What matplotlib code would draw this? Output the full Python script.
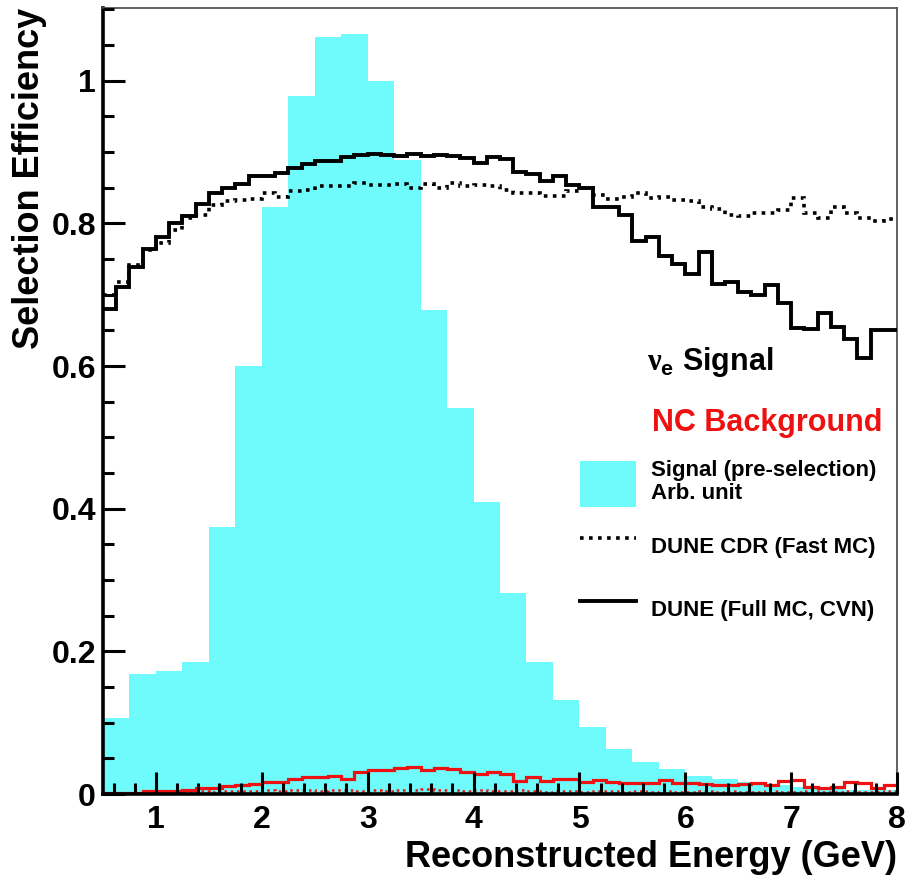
import numpy as np
import matplotlib
matplotlib.use("Agg")
import matplotlib.pyplot as plt
from matplotlib.patches import Patch
from matplotlib.lines import Line2D
from matplotlib.ticker import MultipleLocator, FuncFormatter

plt.rcParams['font.family'] = ['Liberation Sans', 'DejaVu Sans']
plt.rcParams['font.weight'] = 'bold'
plt.rcParams['mathtext.fontset'] = 'custom'
plt.rcParams['mathtext.rm'] = 'Liberation Serif'
plt.rcParams['mathtext.bf'] = 'Liberation Sans:bold'

# ---------------- data ----------------
E_MIN, E_MAX = 0.5, 8.0
N_COARSE, N_FINE = 30, 60

# signal pre-selection spectrum (arb. unit), 0.25 GeV bins
signal_pre = [0.107, 0.168, 0.173, 0.185, 0.375, 0.600, 0.823, 0.979, 1.062, 1.066,
              1.000, 0.889, 0.679, 0.541, 0.410, 0.282, 0.185, 0.132, 0.094, 0.063,
              0.045, 0.035, 0.025, 0.021, 0.017, 0.013, 0.010, 0.008, 0.006, 0.005]

# nu_e signal efficiency, DUNE full MC (CVN), 0.125 GeV bins
sig_cvn = [0.680, 0.711, 0.739, 0.764, 0.781, 0.800, 0.811, 0.827, 0.843, 0.849,
           0.855, 0.867, 0.867, 0.871, 0.878, 0.883, 0.888, 0.887, 0.893, 0.896,
           0.898, 0.896, 0.894, 0.897, 0.894, 0.896, 0.895, 0.892, 0.885, 0.893,
           0.890, 0.872, 0.869, 0.860, 0.867, 0.854, 0.849, 0.823, 0.823, 0.812,
           0.776, 0.781, 0.754, 0.743, 0.729, 0.760, 0.715, 0.718, 0.704, 0.700,
           0.713, 0.689, 0.653, 0.652, 0.674, 0.655, 0.638, 0.611, 0.651, 0.651]

# nu_e signal efficiency, DUNE CDR (fast MC)
sig_cdr = [0.700, 0.718, 0.742, 0.763, 0.773, 0.791, 0.808, 0.812, 0.826, 0.831,
           0.833, 0.834, 0.843, 0.837, 0.846, 0.847, 0.852, 0.852, 0.852, 0.856,
           0.854, 0.854, 0.855, 0.850, 0.855, 0.849, 0.857, 0.852, 0.854, 0.852,
           0.847, 0.843, 0.843, 0.838, 0.839, 0.845, 0.849, 0.840, 0.834, 0.837,
           0.843, 0.836, 0.837, 0.833, 0.831, 0.823, 0.820, 0.812, 0.811, 0.815,
           0.815, 0.819, 0.836, 0.815, 0.808, 0.823, 0.815, 0.808, 0.804, 0.806]

# NC background efficiency, DUNE full MC (CVN)
nc_cvn = [0.002, 0.002, 0.002, 0.004, 0.004, 0.004, 0.006, 0.008, 0.008, 0.011,
          0.013, 0.014, 0.017, 0.017, 0.021, 0.024, 0.024, 0.025, 0.021, 0.031,
          0.034, 0.034, 0.036, 0.038, 0.034, 0.036, 0.035, 0.031, 0.028, 0.031,
          0.028, 0.018, 0.024, 0.018, 0.021, 0.021, 0.017, 0.020, 0.017, 0.015,
          0.015, 0.015, 0.020, 0.015, 0.015, 0.014, 0.013, 0.012, 0.014, 0.015,
          0.012, 0.018, 0.020, 0.010, 0.009, 0.010, 0.017, 0.015, 0.008, 0.013]

# NC background efficiency, DUNE CDR (fast MC)
nc_cdr = [0.002, 0.002, 0.002, 0.003, 0.003, 0.003, 0.003, 0.004, 0.003, 0.004,
          0.004, 0.004, 0.005, 0.004, 0.005, 0.005, 0.004, 0.005, 0.005, 0.004,
          0.005, 0.004, 0.006, 0.005, 0.007, 0.006, 0.005, 0.004, 0.005, 0.004,
          0.004, 0.005, 0.004, 0.003, 0.004, 0.004, 0.003, 0.004, 0.004, 0.003,
          0.004, 0.003, 0.004, 0.003, 0.003, 0.004, 0.003, 0.004, 0.003, 0.003,
          0.004, 0.003, 0.003, 0.004, 0.003, 0.003, 0.004, 0.003, 0.003, 0.004]

Y_MAX = 1.102

# ---------------- style ----------------
CYAN = '#6ffbfb'
RED = '#ee1111'
DOT = (0, (1, 1.5))

W, H = 907, 876
fig = plt.figure(figsize=(W / 100, H / 100), dpi=100)
ax = fig.add_axes([103 / W, 82 / H, 794 / W, 786 / H])

edges_coarse = np.linspace(E_MIN, E_MAX, N_COARSE + 1)
edges_fine = np.linspace(E_MIN, E_MAX, N_FINE + 1)

ax.stairs(signal_pre, edges_coarse, fill=True, color=CYAN, linewidth=0, zorder=1)
ax.stairs(nc_cdr, edges_fine, baseline=None, color=RED, linewidth=1.8, linestyle=DOT, zorder=2)
ax.stairs(nc_cvn, edges_fine, baseline=None, color=RED, linewidth=2.3, zorder=2)
ax.stairs(sig_cdr, edges_fine, baseline=None, color='black', linewidth=2.6, linestyle=DOT, zorder=3)
ax.stairs(sig_cvn, edges_fine, baseline=None, color='black', linewidth=2.8, zorder=3)

ax.set_xlim(E_MIN, E_MAX)
ax.set_ylim(0, Y_MAX)

ax.xaxis.set_major_locator(MultipleLocator(1))
ax.xaxis.set_minor_locator(MultipleLocator(0.2))
ax.yaxis.set_major_locator(MultipleLocator(0.2))
ax.yaxis.set_minor_locator(MultipleLocator(0.05))
fmt = FuncFormatter(lambda v, p: '%g' % round(v, 3))
ax.xaxis.set_major_formatter(fmt)
ax.yaxis.set_major_formatter(fmt)

ax.tick_params(which='both', direction='in', top=False, right=False, width=2.2, color='black')
ax.tick_params(which='major', length=16, labelsize=23)
ax.tick_params(which='minor', length=8)
ax.tick_params(axis='x', which='major', pad=8)
ax.tick_params(axis='y', which='major', pad=5)
ax.set_axisbelow(False)

for s in ('left', 'bottom'):
    ax.spines[s].set_linewidth(2.6)
    ax.spines[s].set_color('black')
for s in ('top', 'right'):
    ax.spines[s].set_linewidth(1.3)
    ax.spines[s].set_color('#555555')

fig.text(12 / W, 1 - 8 / H, 'Selection Efficiency', rotation=90, ha='left', va='top',
         fontsize=26, fontweight='bold')
fig.text(897 / W, 1 - 867 / H, 'Reconstructed Energy (GeV)', ha='right', va='baseline',
         fontsize=26, fontweight='bold')

fig.text(647 / W, 1 - 370 / H, r'$\mathrm{\nu}_{\mathbf{e}}$ Signal', ha='left', va='baseline',
         fontsize=22, fontweight='bold', color='black')
fig.text(652 / W, 1 - 431 / H, 'NC Background', ha='left', va='baseline',
         fontsize=22, fontweight='bold', color=RED)

handles = [Patch(facecolor=CYAN, edgecolor='none'),
           Line2D([], [], color='black', linewidth=2.6, linestyle=DOT),
           Line2D([], [], color='black', linewidth=2.8)]
labels = ['Signal (pre-selection)\nArb. unit', 'DUNE CDR (Fast MC)', 'DUNE (Full MC, CVN)']
leg = ax.legend(handles, labels, loc='upper left', bbox_to_anchor=(580 / W, 1 - 460 / H),
                bbox_transform=fig.transFigure, frameon=False, borderpad=0, borderaxespad=0,
                handlelength=2.52, handleheight=2.81, handletextpad=0.68, labelspacing=0.75,
                prop={'size': 16, 'weight': 'bold'})
for t in leg.get_texts():
    t.set_linespacing(1.15)

fig.savefig('out.png', dpi=100)
